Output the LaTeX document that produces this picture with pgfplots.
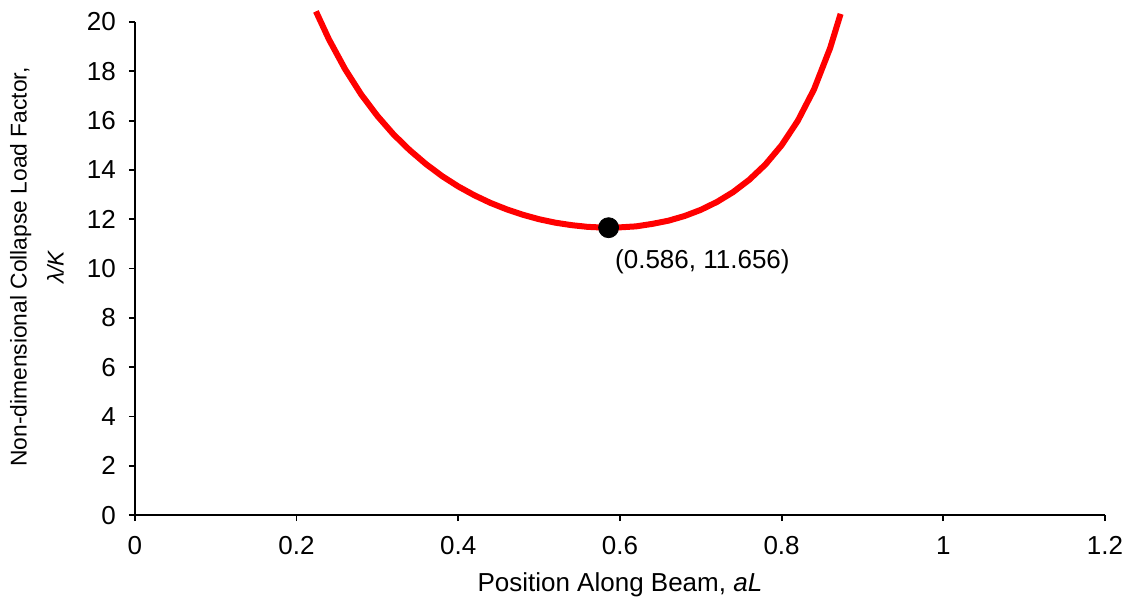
\documentclass[border=0pt]{standalone}
\usepackage{fontspec}
\setmainfont{Liberation Sans}
\usepackage{pgfplots}
\pgfplotsset{compat=1.18}
\begin{document}
\begin{tikzpicture}
\begin{axis}[
  scale only axis,
  width=485pt, height=246.5pt,
  xmin=0, xmax=1.2, ymin=0, ymax=20,
  clip=false,
  axis x line=bottom, axis y line=left,
  axis line style={-, line width=0.9pt, black},
  tick align=outside,
  major tick length=3pt,
  tick style={line width=0.9pt, black},
  xtick={0,0.2,0.4,0.6,0.8,1,1.2},
  xticklabels={0,0.2,0.4,0.6,0.8,1,1.2},
  ytick={0,2,4,6,8,10,12,14,16,18,20},
  yticklabels={0,2,4,6,8,10,12,14,16,18,20},
  ticklabel style={font=\fontsize{13}{15}\selectfont},
  xticklabel style={yshift=-4pt},
  yticklabel style={xshift=-3pt},
  xlabel={Position Along Beam, \textit{aL}},
  ylabel={Non-dimensional Collapse Load Factor,\\\textit{λ/K}},
  xlabel style={at={(axis description cs:0.5,-0.142)}, anchor=center, font=\fontsize{13}{15}\selectfont},
  ylabel style={at={(axis description cs:-0.066,0.503)}, anchor=south, align=center, font=\fontsize{11.4}{18.5}\selectfont},
]
\path[draw=none] (rel axis cs:-0.139,1.0446) rectangle (rel axis cs:1.0258,-0.1805);
\addplot[red, line width=3pt, line join=round] coordinates {
(0.224,20.43) (0.24,19.30) (0.26,18.09) (0.28,17.06) (0.30,16.19)
(0.32,15.44) (0.34,14.80) (0.36,14.24) (0.38,13.75) (0.40,13.33)
(0.42,12.97) (0.44,12.66) (0.46,12.40) (0.48,12.18) (0.50,12.00)
(0.52,11.86) (0.54,11.76) (0.56,11.69) (0.58,11.66) (0.60,11.67)
(0.62,11.71) (0.64,11.81) (0.66,11.94) (0.68,12.13) (0.70,12.38)
(0.72,12.70) (0.74,13.10) (0.76,13.60) (0.78,14.22) (0.80,15.00)
(0.82,15.99) (0.84,17.26) (0.86,18.94) (0.873,20.33)
};
\addplot[only marks, mark=*, mark size=5pt, black] coordinates {(0.586,11.656)};
\node[font=\fontsize{13}{15}\selectfont] at (axis cs:0.702,10.26) {(0.586, 11.656)};
\end{axis}
\end{tikzpicture}
\end{document}
